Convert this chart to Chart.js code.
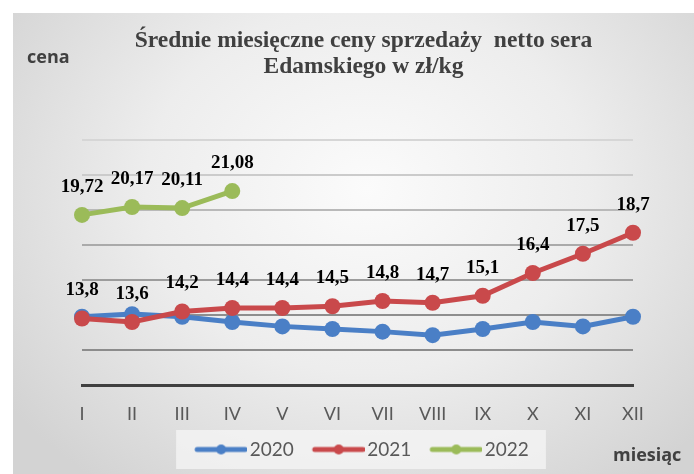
<!DOCTYPE html>
<html lang="pl">
<head>
    <meta charset="UTF-8">
    <title>Średnie miesięczne ceny sprzedaży netto sera Edamskiego</title>
    <style>
        body {
            margin: 0;
            background-color: #fff;
        }
        .frame {
            position: absolute;
            left: 13px;
            top: 13px;
            width: 681px;
            height: 461px;
            background: radial-gradient(ellipse 65% 80% at 52% 38%, #fbfbfb 0%, #ededed 50%, #d3d3d3 100%);
        }
    </style>
    <script src="https://cdn.jsdelivr.net/npm/chart.js"></script>
</head>
<body>
    <div class="frame">
        <canvas id="cheeseChart" width="681" height="461"></canvas>
    </div>

    <script>
        // data
        const months = ['I', 'II', 'III', 'IV', 'V', 'VI', 'VII', 'VIII', 'IX', 'X', 'XI', 'XII'];
        const years = ['2020', '2021', '2022'];
        const prices2020 = [13.9, 14.05, 13.9, 13.6, 13.35, 13.2, 13.05, 12.85, 13.2, 13.6, 13.35, 13.9];
        const prices2021 = [13.8, 13.6, 14.2, 14.4, 14.4, 14.5, 14.8, 14.7, 15.1, 16.4, 17.5, 18.7];
        const prices2022 = [19.72, 20.17, 20.11, 21.08];
        const titleLines = ['Średnie miesięczne ceny sprzedaży  netto sera', 'Edamskiego w zł/kg'];

        const lineColors = ['#4a7fc6', '#c9494b', '#9bbb59'];
        // gridlines fade towards the top, from the axis up
        const gridShades = ['rgba(0,0,0,0)', '#8c8c8c', '#8e8e8e', '#9c9c9c', '#aaaaaa', '#b9b9b9', '#cbcbcb', '#d6d6d6'];

        const serif = "'Liberation Serif', 'Times New Roman', serif";
        const sans = "Lato, 'Open Sans', sans-serif";

        // small line + dot sample for the legend, like in Excel
        function legendSample(color) {
            const c = document.createElement('canvas');
            c.width = 68;
            c.height = 14;
            const g = c.getContext('2d');
            g.strokeStyle = color;
            g.lineWidth = 5;
            g.lineCap = 'round';
            g.beginPath();
            g.moveTo(18, 7);
            g.lineTo(66, 7);
            g.stroke();
            g.fillStyle = color;
            g.beginPath();
            g.arc(42, 7, 5, 0, Math.PI * 2);
            g.fill();
            return c;
        }

        const decorPlugin = {
            id: 'decor',
            beforeDraw(chart) {
                // light box behind the legend
                const boxes = chart.legend && chart.legend.legendHitBoxes;
                if (!boxes || !boxes.length) return;
                const first = boxes[0];
                const last = boxes[boxes.length - 1];
                const ctx = chart.ctx;
                ctx.save();
                ctx.fillStyle = 'rgba(246,246,246,0.75)';
                ctx.fillRect(first.left - 10, first.top - 10, last.left + last.width + 17 - (first.left - 10), 39);
                ctx.restore();
            },
            afterDatasetsDraw(chart) {
                const ctx = chart.ctx;
                ctx.save();
                ctx.font = 'bold 19px ' + serif;
                ctx.fillStyle = '#000';
                ctx.textAlign = 'center';
                ctx.textBaseline = 'middle';
                chart.data.datasets.forEach((ds, i) => {
                    if (!ds.showValues) return;
                    chart.getDatasetMeta(i).data.forEach((pt, j) => {
                        const v = ds.data[j];
                        if (v == null) return;
                        ctx.fillText(String(v).replace('.', ','), pt.x, pt.y - 28);
                    });
                });
                ctx.restore();
            },
            afterDraw(chart) {
                const ctx = chart.ctx;
                const area = chart.chartArea;
                ctx.save();
                ctx.fillStyle = '#404040';
                ctx.textAlign = 'center';
                ctx.textBaseline = 'alphabetic';
                ctx.font = 'bold 23.5px ' + serif;
                const cx = (area.left + area.right) / 2 + 6;
                ctx.fillText(titleLines[0], cx, 34);
                ctx.fillText(titleLines[1], cx, 60);

                ctx.textAlign = 'left';
                ctx.font = "bold 18px 'Open Sans', sans-serif";
                ctx.fillText('cena', 14, 50);
                ctx.fillText('miesiąc', 600, 448);
                ctx.restore();
            }
        };

        new Chart(document.getElementById('cheeseChart'), {
            type: 'line',
            data: {
                labels: months,
                datasets: [
                    { label: years[0], data: prices2020, order: 3, showValues: false },
                    { label: years[1], data: prices2021, order: 2, showValues: true },
                    { label: years[2], data: prices2022, order: 1, showValues: true }
                ].map((ds, i) => Object.assign(ds, {
                    borderColor: lineColors[i],
                    backgroundColor: lineColors[i],
                    borderWidth: 5,
                    pointRadius: 8,
                    pointBorderWidth: 0,
                    pointHoverRadius: 8,
                    tension: 0,
                    fill: false
                }))
            },
            options: {
                responsive: false,
                animation: false,
                layout: {
                    padding: { top: 127, left: 69, right: 61, bottom: 5 }
                },
                scales: {
                    x: {
                        offset: false,
                        grid: { display: false, drawTicks: false },
                        border: { color: '#404040', width: 3 },
                        ticks: {
                            color: '#595959',
                            font: { family: sans, size: 18 },
                            padding: 18,
                            maxRotation: 0,
                            autoSkip: false
                        },
                        afterFit(scale) {
                            scale.height = 45;
                        }
                    },
                    y: {
                        min: 10,
                        max: 24,
                        grid: {
                            drawTicks: false,
                            lineWidth: 2,
                            color: (c) => gridShades[c.index] || '#d6d6d6'
                        },
                        border: { display: false },
                        ticks: { display: false, stepSize: 2 }
                    }
                },
                plugins: {
                    title: { display: false },
                    tooltip: { enabled: false },
                    legend: {
                        position: 'bottom',
                        labels: {
                            color: '#595959',
                            font: { family: sans, size: 19 },
                            usePointStyle: true,
                            pointStyleWidth: 54,
                            padding: 10,
                            sort: (a, b) => a.datasetIndex - b.datasetIndex,
                            generateLabels(chart) {
                                const items = Chart.defaults.plugins.legend.labels.generateLabels(chart);
                                items.forEach(it => {
                                    it.pointStyle = legendSample(lineColors[it.datasetIndex]);
                                });
                                return items;
                            }
                        }
                    }
                }
            },
            plugins: [decorPlugin]
        });
    </script>
</body>
</html>
